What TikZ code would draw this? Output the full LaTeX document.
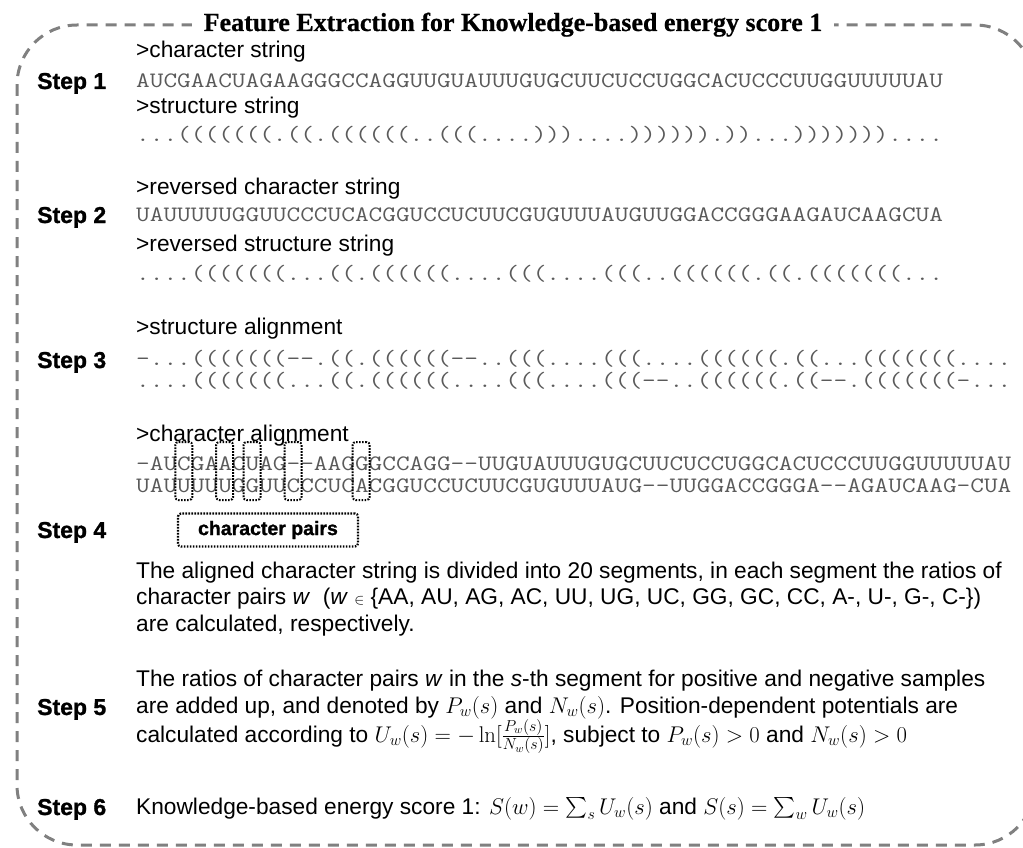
\RequirePackage{fix-cm}
\documentclass[tikz,border=0pt]{standalone}
\usepackage{amsmath}
\usepackage[no-math]{fontspec}
\setmainfont{Liberation Sans}
\newfontfamily\titlefont{Liberation Serif}[BoldFeatures={FakeBold=0.6}]
\newfontfamily\stepfont{Liberation Sans}[BoldFeatures={FakeBold=1.2}]
\usepackage{graphicx}
\definecolor{seqgray}{HTML}{5A5A5A}
\definecolor{bordergray}{HTML}{808080}
\newcommand{\sq}[1]{\scalebox{1.207}[1]{\fontsize{22}{22}\selectfont\ttfamily #1}}
\newcommand{\dd}{-\kern0pt}
\tikzset{
  lbl/.style={anchor=base west, inner sep=0pt, font=\fontsize{22.7}{27}\selectfont},
  steplbl/.style={anchor=base west, inner sep=0pt, font=\fontsize{23}{26}\selectfont\stepfont\bfseries},
  seqline/.style={anchor=base west, inner sep=0pt, text=seqgray},
  border/.style={draw=bordergray, line width=3pt, dash pattern=on 11pt off 8pt, rounded corners=60pt},
  pairbox/.style={draw, line width=2pt, dash pattern=on 1.6pt off 1.4pt, rounded corners=3pt, minimum width=17pt, minimum height=58pt, inner sep=0pt},
  cpbox/.style={draw, line width=2.2pt, dash pattern=on 1.6pt off 1.4pt, rounded corners=3pt, minimum width=180pt, minimum height=33pt, inner sep=0pt, font=\fontsize{19.5}{22}\selectfont\stepfont\bfseries},
  titlenode/.style={anchor=base, fill=white, inner xsep=12pt, inner ysep=1pt, text depth=1pt, font=\fontsize{26}{30}\selectfont\titlefont\bfseries}
}
\begin{document}
\begin{tikzpicture}[x=1pt, y=-1pt]
\useasboundingbox (0,0) rectangle (1023,848);
% border
\draw[border] (17,25) rectangle (1035,845);
\node[titlenode] (title) at (513,31) {Feature Extraction for Knowledge-based energy score 1};

% Step 1
\node[lbl] (l1a) at (136,58) {>character string};
\node[steplbl] (st1) at (37,89) {Step 1};
\node[seqline] (q1) at (136,88) {\sq{AUCGAACUAGAAGGGCCAGGUUGUAUUUGUGCUUCUCCUGGCACUCCCUUGGUUUUUAU}};
\node[lbl] (l1b) at (136,114) {>structure string};
\node[seqline] (q1s) at (136,142) {\sq{...(((((((.((.((((((..(((....)))....)))))).))...)))))))....}};

% Step 2
\node[lbl] (l2a) at (136,194) {>reversed character string};
\node[steplbl] (st2) at (37,223) {Step 2};
\node[seqline] (q2) at (136,222) {\sq{UAUUUUUGGUUCCCUCACGGUCCUCUUCGUGUUUAUGUUGGACCGGGAAGAUCAAGCUA}};
\node[lbl] (l2b) at (136,251) {>reversed structure string};
\node[seqline] (q2s) at (136,280) {\sq{....(((((((...((.((((((....(((....(((..((((((.((.(((((((...}};

% Step 3
\node[lbl] (l3a) at (136,334) {>structure alignment};
\node[steplbl] (st3) at (37,368) {Step 3};
\node[seqline] (q3a) at (136,365) {\sq{\dd...(((((((\dd\dd.((.((((((\dd\dd..(((....(((....((((((.((...(((((((....}};
\node[seqline] (q3b) at (136,387) {\sq{....(((((((...((.((((((....(((....(((\dd\dd..((((((.((\dd\dd.(((((((\dd...}};

% Step 4
\node[lbl] (l4a) at (136,441) {>character alignment};
\node[seqline] (q4a) at (136,470) {\sq{\dd AUCGAACUAG\dd\dd AAGGGCCAGG\dd\dd UUGUAUUUGUGCUUCUCCUGGCACUCCCUUGGUUUUUAU}};
\node[seqline] (q4b) at (136,492) {\sq{UAUUUUUGGUUCCCUCACGGUCCUCUUCGUGUUUAUG\dd\dd UUGGACCGGGA\dd\dd AGAUCAAG\dd CUA}};
\node[pairbox] (p1) at (183.8,471) {};
\node[pairbox] (p2) at (224.7,471) {};
\node[pairbox] (p3) at (252.0,471) {};
\node[pairbox] (p4) at (293.0,471) {};
\node[pairbox] (p5) at (361.2,471) {};
\node[steplbl] (st4) at (37,538) {Step 4};
\node[cpbox] (cp) at (268,530) {character pairs};
\node[lbl] (t4a) at (136,578) {The aligned character string is divided into 20 segments, in each segment the ratios of};
\node[lbl] (t4b) at (136,604) {character pairs \textit{w}\ \ (\textit{w} {\fontsize{15}{15}\selectfont$\in$} \{AA, AU, AG, AC, UU, UG, UC, GG, GC, CC, A-, U-, G-, C-\})};
\node[lbl] (t4c) at (136,631) {are calculated, respectively.};

% Step 5
\node[lbl] (t5a) at (136,686) {The ratios of character pairs \textit{w} in the \textit{s}-th segment for positive and negative samples};
\node[steplbl] (st5) at (37,715) {Step 5};
\node[lbl] (t5b) at (136,713) {are added up, and denoted by $P_w(s)$ and $N_w(s)$. Position-dependent potentials are};
\node[lbl] (t5c) at (136,742) {calculated according to $U_w(s)=-\ln[\frac{P_w(s)}{N_w(s)}]$, subject to $P_w(s)>0$ and $N_w(s)>0$};

% Step 6
\node[steplbl] (st6) at (37,815) {Step 6};
\node[lbl] (t6) at (136,814) {Knowledge-based energy score 1: $S(w)=\sum_s U_w(s)$ and $S(s)=\sum_w U_w(s)$};
\end{tikzpicture}
\end{document}
